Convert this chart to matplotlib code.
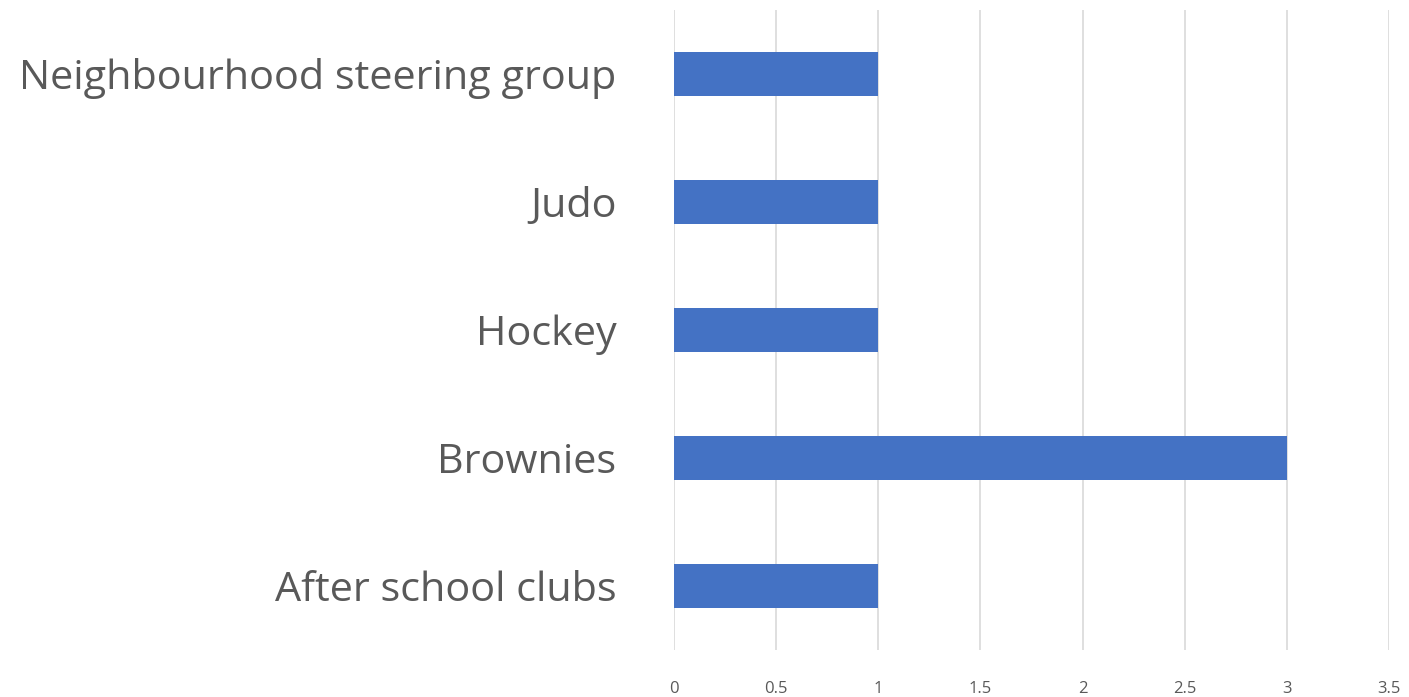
import matplotlib
matplotlib.use("Agg")
import matplotlib.pyplot as plt

categories = ["After school clubs", "Brownies", "Hockey", "Judo", "Neighbourhood steering group"]
counts = [1, 3, 1, 1, 1]
xticks = [0, 0.5, 1, 1.5, 2, 2.5, 3, 3.5]
xtick_labels = ["0", "0.5", "1", "1.5", "2", "2.5", "3", "3.5"]

plt.rcParams["font.family"] = ["Open Sans", "DejaVu Sans"]

fig = plt.figure(figsize=(14.09, 6.97), dpi=100)
ax = fig.add_axes([0.478, 0.067, 0.508, 0.919])

ax.barh(range(len(categories)), counts, height=0.345, color="#4472C4", zorder=3)
ax.set_xlim(0, 3.5)
ax.set_ylim(-0.5, len(categories) - 0.5)
ax.set_xticks(xticks)
ax.set_xticklabels(xtick_labels, fontsize=12, color="#595959")
ax.set_yticks(range(len(categories)))
ax.set_yticklabels(categories, fontsize=29.8, color="#595959")
ax.xaxis.grid(True, color="#D9D9D9", linewidth=1.2, zorder=0)
ax.tick_params(axis="both", length=0)
ax.tick_params(axis="y", pad=41)
ax.tick_params(axis="x", pad=22)
for s in ax.spines.values():
    s.set_visible(False)

fig.savefig("out.png", dpi=100)
